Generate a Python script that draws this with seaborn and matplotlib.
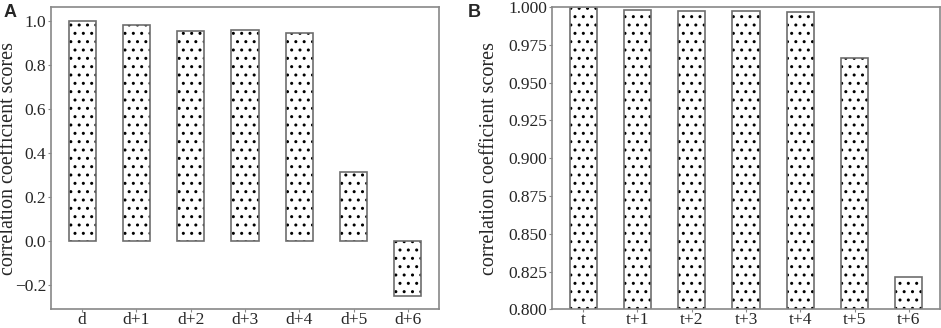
import matplotlib
matplotlib.use("Agg")
import matplotlib.pyplot as plt
import seaborn as sns
import pandas as pd

# panel A: correlation with lagged days
day_labels = ["d", "d+1", "d+2", "d+3", "d+4", "d+5", "d+6"]
day_scores = [1.0, 0.980, 0.955, 0.959, 0.943, 0.314, -0.247]

# panel B: correlation with lagged time steps
time_labels = ["t", "t+1", "t+2", "t+3", "t+4", "t+5", "t+6"]
time_scores = [1.0, 0.9978, 0.9976, 0.9971, 0.9965, 0.9665, 0.8214]

sns.set_style("white")
plt.rcParams["font.family"] = ["Liberation Serif", "DejaVu Serif"]
plt.rcParams["hatch.linewidth"] = 1.0

edge = "#6e6e6e"

fig = plt.figure(figsize=(9.41, 3.28), dpi=100)
axA = fig.add_axes([0.0542, 0.057, 0.4123, 0.9217])
axB = fig.add_axes([0.5866, 0.057, 0.4124, 0.9217])


def draw(ax, labels, scores, label_x):
    df = pd.DataFrame({"lag": labels, "score": scores})
    # dotted fill (black dots)
    sns.barplot(data=df, x="lag", y="score", ax=ax, width=0.5, color="white",
                edgecolor="black", linewidth=0, hatch="..", errorbar=None)
    # grey outline on top
    sns.barplot(data=df, x="lag", y="score", ax=ax, width=0.5, fill=False,
                edgecolor=edge, linewidth=1.2, errorbar=None)
    ax.set_xlim(-0.575, len(labels) - 0.425)
    ax.set_xlabel("")
    ax.set_ylabel("correlation coefficient scores", fontsize=14.5)
    ax.yaxis.set_label_coords(label_x, 0.5)
    for s in ax.spines.values():
        s.set_color("#888888")
        s.set_linewidth(1.2)
    ax.tick_params(axis="both", labelsize=12.5, direction="out", length=2,
                   width=0.8, color="#888888", left=True, bottom=True)
    ax.tick_params(axis="y", pad=1.5)
    ax.tick_params(axis="x", pad=0)


draw(axA, day_labels, day_scores, -0.085)
lo, hi = min(day_scores), max(day_scores)
pad = 0.05 * (hi - lo)
axA.set_ylim(lo - pad, hi + pad)
axA.set_yticks([-0.2, 0.0, 0.2, 0.4, 0.6, 0.8, 1.0])
axA.set_yticklabels(["\u22120.2", "0.0", "0.2", "0.4", "0.6", "0.8", "1.0"])

draw(axB, time_labels, time_scores, -0.137)
axB.set_ylim(0.8, 1.0)
bticks = [0.800, 0.825, 0.850, 0.875, 0.900, 0.925, 0.950, 0.975, 1.000]
axB.set_yticks(bticks)
axB.set_yticklabels([f"{v:.3f}" for v in bticks])

fig.text(0.004, 0.988, "A", fontsize=13, fontweight="bold",
         family="Liberation Sans", va="top", ha="left")
fig.text(0.497, 0.988, "B", fontsize=13, fontweight="bold",
         family="Liberation Sans", va="top", ha="left")

fig.savefig("out.png", dpi=100)
